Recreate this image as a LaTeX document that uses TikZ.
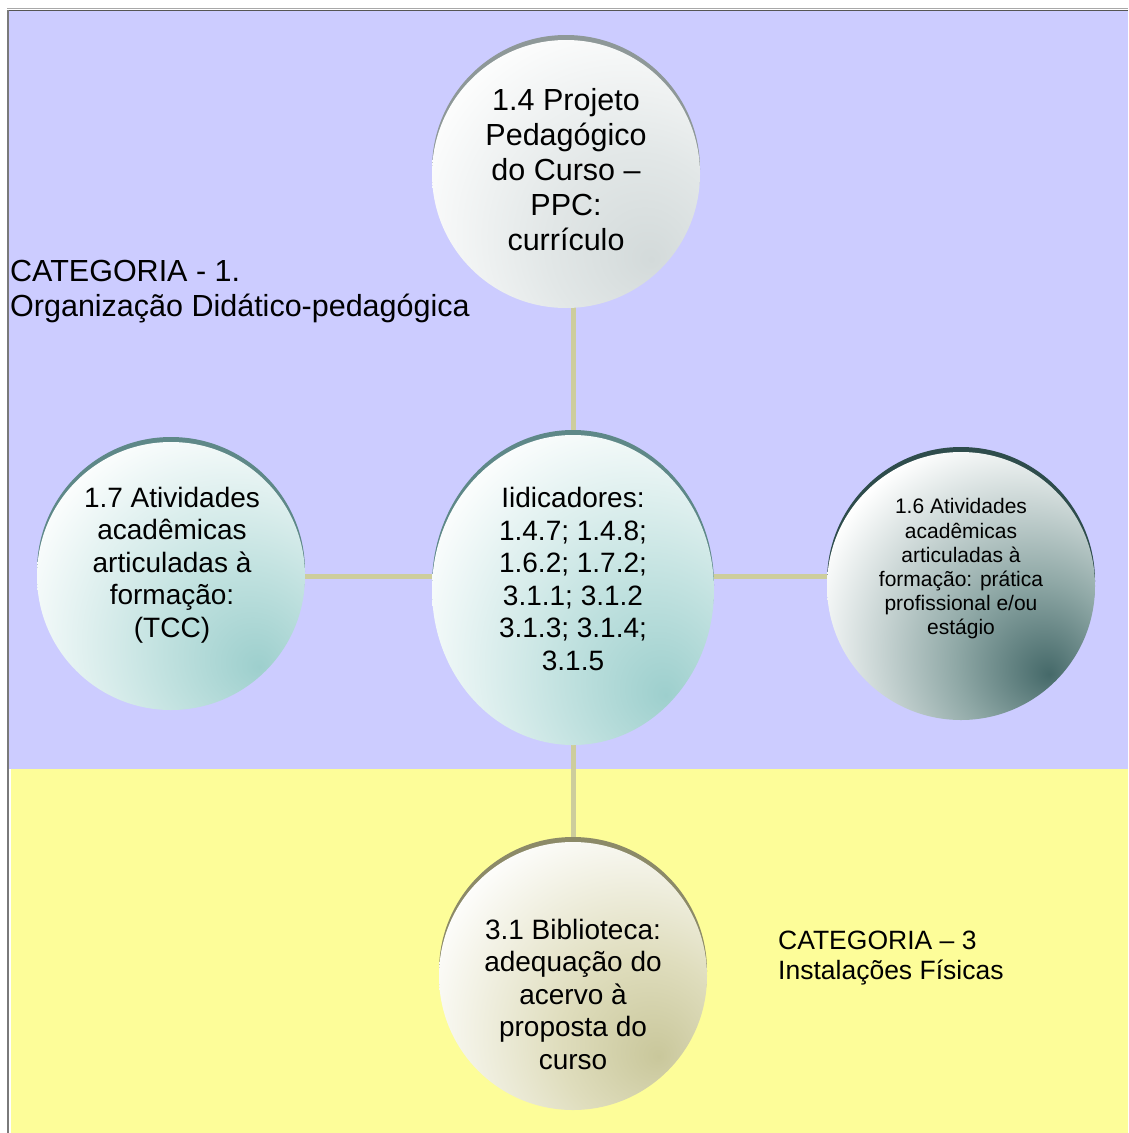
\documentclass[tikz,border=0pt]{standalone}
\usepackage{fontspec}
\setmainfont{Liberation Sans}
\usetikzlibrary{shapes.geometric}

\definecolor{catblue}{HTML}{CCCCFF}
\definecolor{catyellow}{HTML}{FDFD99}
\definecolor{linkcol}{HTML}{CDCD9C}
\definecolor{framedark}{HTML}{555555}
\definecolor{framelight}{HTML}{A8A8A8}
\definecolor{frameleft}{HTML}{7A7A7A}
% ball tints (darkest point, lower right)
\definecolor{tealdeep}{HTML}{9DCFCD}
\definecolor{tealmid}{HTML}{C2E2E0}
\definecolor{slatedeep}{HTML}{456969}
\definecolor{slatemid}{HTML}{8FA8A6}
\definecolor{greydeep}{HTML}{D3DADA}
\definecolor{greymid}{HTML}{E2E7E7}
\definecolor{khakideep}{HTML}{C9C79B}
\definecolor{khakimid}{HTML}{DFDDBD}
% rims
\definecolor{rimteal}{HTML}{5E8888}
\definecolor{rimslate}{HTML}{2E4C4C}
\definecolor{rimgrey}{HTML}{8E9898}
\definecolor{rimkhaki}{HTML}{8C8A68}

% the inner 50bp square of a shading covers the shaded node
\pgfdeclareradialshading{ballteal}{\pgfpoint{16.5bp}{-17bp}}{color(0bp)=(tealdeep); color(16bp)=(tealmid); color(41bp)=(white); color(100bp)=(white)}
\pgfdeclareradialshading{ballslate}{\pgfpoint{16.5bp}{-16.5bp}}{color(0bp)=(slatedeep); color(15bp)=(slatemid); color(39bp)=(white); color(100bp)=(white)}
\pgfdeclareradialshading{ballgrey}{\pgfpoint{16bp}{-16bp}}{color(0bp)=(greydeep); color(17bp)=(greymid); color(41bp)=(white); color(100bp)=(white)}
\pgfdeclareradialshading{ballkhaki}{\pgfpoint{16bp}{-15bp}}{color(0bp)=(khakideep); color(16bp)=(khakimid); color(40bp)=(white); color(100bp)=(white)}

\pgfdeclarelayer{panels}
\pgfdeclarelayer{links}
\pgfsetlayers{panels,links,main}

\tikzset{
  ball/.style={circle, inner sep=0pt, minimum size=268pt, shade, shading=#1},
  rimball/.style={circle, inner sep=0pt, minimum size=268pt, fill=#1},
  link/.style={draw=linkcol, line width=5pt},
  txtbig/.style={align=center, inner sep=0pt, font=\fontsize{30.5}{35}\selectfont},
  txtmid/.style={align=center, inner sep=0pt, font=\fontsize{28}{32.5}\selectfont},
  txtsmall/.style={align=center, inner sep=0pt, font=\fontsize{21}{24.2}\selectfont},
  cattxt/.style={align=left, anchor=west, inner sep=0pt},
}

\begin{document}
\begin{tikzpicture}[x=1pt, y=-1pt]
\useasboundingbox (0,0) rectangle (1128,1133);

% category panels and frame
\begin{pgfonlayer}{panels}
\fill[catblue] (8,10) rectangle (1128,769);
\fill[catyellow] (11,769) rectangle (1128,1133);
\draw[framelight, line width=1pt] (7,8.6) -- (1128,8.6);
\draw[framedark, line width=1.4pt] (7,10.2) -- (1128,10.2);
\draw[frameleft, line width=2pt] (7.6,10) -- (7.6,1133);
\end{pgfonlayer}

% offset rims behind the balls
\node[rimball=rimgrey] (topRim) at (566,169) {};
\node[ellipse, inner sep=0pt, minimum width=282pt, minimum height=310pt, fill=rimteal] (ctrRim) at (573,585) {};
\node[rimball=rimteal] (leftRim) at (171,571) {};
\node[rimball=rimslate] (rightRim) at (961,581) {};
\node[rimball=rimkhaki] (botRim) at (573,971) {};

% balls
\node[ball=ballgrey] (top) at (566,174) {};
\node[ellipse, inner sep=0pt, minimum width=282pt, minimum height=310pt, shade, shading=ballteal] (ctr) at (573,590) {};
\node[ball=ballteal] (left) at (171,576) {};
\node[ball=ballslate] (right) at (961,586) {};
\node[ball=ballkhaki] (bot) at (573,976) {};

% connectors
\begin{pgfonlayer}{links}
\draw[link] (ctr) -- (ctr |- top);
\draw[link] (ctr) -- (ctr |- bot);
\draw[link] (left) -- (left -| right);
\end{pgfonlayer}

% ball texts
\node[txtbig] (topTxt) at (566,170) {1.4 Projeto\\Pedagógico\\do Curso –\\PPC:\\currículo};
\node[txtmid] (ctrTxt) at (573,579) {Iidicadores:\\1.4.7; 1.4.8;\\1.6.2; 1.7.2;\\3.1.1; 3.1.2\\3.1.3; 3.1.4;\\3.1.5};
\node[txtmid] (leftTxt) at (172,565) {1.7 Atividades\\acadêmicas\\articuladas à\\formação:\\(TCC)};
\node[txtsmall] (rightTxt) at (961,569) {1.6 Atividades\\acadêmicas\\articuladas à\\formação: prática\\profissional e/ou\\estágio};
\node[txtmid] (botTxt) at (573,994) {3.1 Biblioteca:\\adequação do\\acervo à\\proposta do\\curso};

% category labels
\node[cattxt, font=\fontsize{30.5}{35}\selectfont] (cat1) at (10,292) {CATEGORIA - 1.\\Organização Didático-pedagógica};
\node[cattxt, font=\fontsize{26.5}{30}\selectfont] (cat3) at (778,958) {CATEGORIA – 3\\Instalações Físicas};
\end{tikzpicture}
\end{document}
